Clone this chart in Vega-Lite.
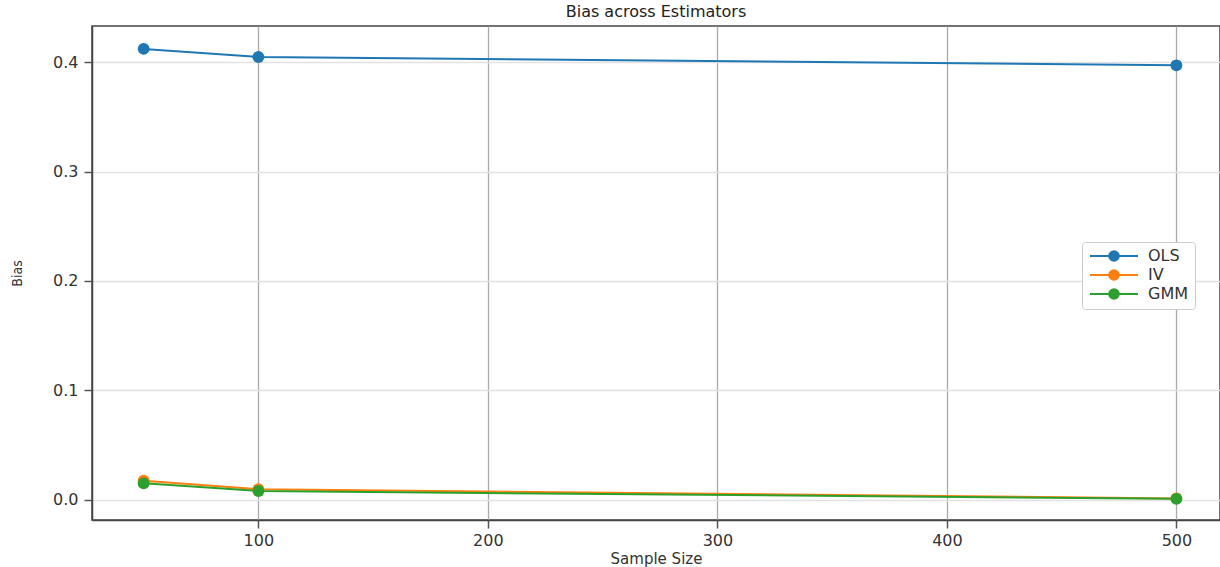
{
  "$schema": "https://vega.github.io/schema/vega-lite/v6.json",
  "width": 1128,
  "height": 494,
  "autosize": "none",
  "padding": {"left": 92, "top": 26, "right": 0, "bottom": 47},
  "background": "white",
  "config": {
    "view": {"stroke": "#444", "strokeWidth": 1.5},
    "font": "DejaVu Sans"
  },
  "title": {"text": "Bias across Estimators", "fontSize": 16, "fontWeight": "normal", "color": "#222", "offset": 6, "font": "DejaVu Sans"},
  "data": {
    "values": [
      {"n": 50, "bias": 0.412, "est": "OLS"},
      {"n": 100, "bias": 0.4046, "est": "OLS"},
      {"n": 500, "bias": 0.397, "est": "OLS"},
      {"n": 50, "bias": 0.0176, "est": "IV"},
      {"n": 100, "bias": 0.0098, "est": "IV"},
      {"n": 500, "bias": 0.0014, "est": "IV"},
      {"n": 50, "bias": 0.0152, "est": "GMM"},
      {"n": 100, "bias": 0.0082, "est": "GMM"},
      {"n": 500, "bias": 0.001, "est": "GMM"}
    ]
  },
  "encoding": {
    "x": {
      "field": "n", "type": "quantitative",
      "scale": {"domain": [27.5, 519], "nice": false, "zero": false},
      "axis": {
        "title": "Sample Size", "values": [100, 200, 300, 400, 500], "format": "d",
        "labelFontSize": 16, "labelColor": "#333", "labelPadding": 4,
        "tickSize": 8, "tickColor": "#555", "tickWidth": 1.5,
        "domainColor": "#444", "domainWidth": 1.5,
        "gridColor": "#aaaaaa", "gridWidth": 1.3,
        "titleFontSize": 15, "titleFontWeight": "normal", "titleColor": "#333", "titlePadding": 3
      }
    },
    "y": {
      "field": "bias", "type": "quantitative",
      "scale": {"domain": [-0.0183, 0.4329], "nice": false, "zero": false},
      "axis": {
        "title": "Bias", "values": [0, 0.1, 0.2, 0.3, 0.4], "format": ".1f",
        "labelFontSize": 16, "labelColor": "#333", "labelPadding": 6,
        "tickSize": 8, "tickColor": "#555", "tickWidth": 1.5,
        "domainColor": "#444", "domainWidth": 1.5,
        "gridColor": "#e2e2e2", "gridWidth": 1.5,
        "titleFont": "DejaVu Sans Condensed", "titleFontSize": 14, "titleFontWeight": "normal", "titleColor": "#333",
        "titleX": -68, "titleY": 247
      }
    },
    "color": {
      "field": "est", "type": "nominal",
      "scale": {"domain": ["OLS", "IV", "GMM"], "range": ["#1f77b4", "#ff7f0e", "#2ca02c"]},
      "legend": {
        "title": null, "orient": "none", "legendX": 990, "legendY": 216,
        "fillColor": "white", "strokeColor": "#cccccc", "cornerRadius": 3, "padding": 6,
        "labelFontSize": 16, "labelColor": "#333", "labelOffset": 26, "rowPadding": 1,
        "symbolOffset": 18,
        "symbolType": "M-4,0L4,0M-0.8,0A0.8,0.8 0 1,0 0.8,0A0.8,0.8 0 1,0 -0.8,0Z",
        "symbolSize": 144, "symbolStrokeWidth": 2
      }
    }
  },
  "layer": [
    {"mark": {"type": "line", "strokeWidth": 2}},
    {"mark": {"type": "point", "filled": true, "size": 140, "opacity": 1}}
  ]
}
